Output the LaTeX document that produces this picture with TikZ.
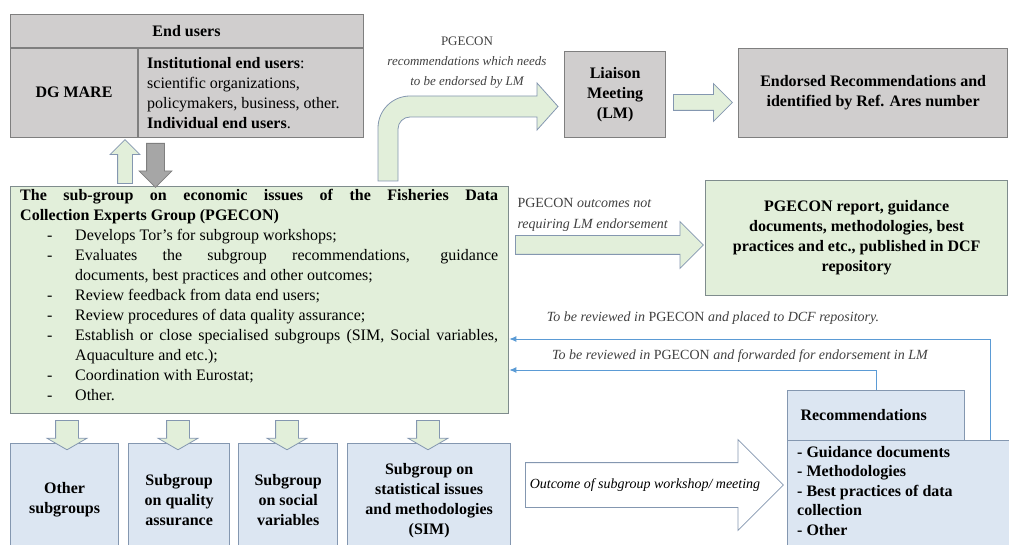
\documentclass[tikz,border=0pt]{standalone}
\usepackage{fontspec}
\setmainfont{Liberation Serif}
\usetikzlibrary{shapes.arrows,arrows.meta,positioning}

\definecolor{boxgray}{HTML}{D0CECE}
\definecolor{edgegray}{HTML}{7F7F7F}
\definecolor{boxgreen}{HTML}{E2EFDA}
\definecolor{edgegreen}{HTML}{7F8C8D}
\definecolor{boxblue}{HTML}{DCE6F2}
\definecolor{edgeblue}{HTML}{8497B0}
\definecolor{linkblue}{HTML}{5B9BD5}
\definecolor{labelgray}{HTML}{404040}

\newcommand{\mainsize}{\fontsize{16}{20}\selectfont}
\newcommand{\pitem}[1]{\hangindent=55pt\hangafter=1\hspace*{27pt}\makebox[28pt][l]{-}#1\par}

\tikzset{
  gbox/.style={rectangle, draw=edgegray, fill=boxgray, line width=1.3pt, inner sep=0pt, anchor=north west},
  grbox/.style={gbox, draw=edgegreen, fill=boxgreen},
  bbox/.style={gbox, draw=edgeblue, fill=boxblue},
  blockarrow/.style={single arrow, draw=edgeblue, fill=boxgreen, line width=0.8pt,
    anchor=tail, single arrow tip angle=90},
  btext/.style={font=\mainsize\bfseries, align=center},
  lbl/.style={font=\fontsize{14}{17}\selectfont\itshape, text=labelgray, align=center},
  feedback/.style={draw=linkblue, line width=1pt, -{Latex[length=7pt,width=6pt]}}
}

\begin{document}
\begin{tikzpicture}[x=1pt,y=-1pt,font=\mainsize]
  \useasboundingbox (0,0) rectangle (1009,545);
  \clip (0,0) rectangle (1009,545);

  % end users
  \node[gbox, minimum width=353pt, minimum height=123pt] (endusers) at (10,14) {};
  \draw[edgegray, line width=1.3pt] (endusers.west |- 0,48) -- (endusers.east |- 0,48);
  \draw[edgegray, line width=1.3pt] (138,48) -- (endusers.south -| 138,0);
  \node[btext] (eutitle) at (186.5,31) {End users};
  \node[btext] (dgmare) at (74,92.5) {DG MARE};
  \node[anchor=west, align=left, inner sep=0pt] (euinst) at (147,93.5)
    {\textbf{Institutional end users}:\\ scientific organizations,\\ policymakers, business, other.\\ \textbf{Individual end users}.};

  % pgecon
  \node[grbox, minimum width=498pt, minimum height=227pt] (pgecon) at (10,186) {};
  \node[anchor=north west, text width=478pt, align=justify, inner sep=0pt] (pgtext) at (20,189)
    {\parindent=0pt\textbf{The sub-group on economic issues of the Fisheries Data\linebreak Collection Experts Group (PGECON)}\par
     \pitem{Develops Tor’s for subgroup workshops;}
     \pitem{Evaluates the subgroup recommendations, guidance\linebreak documents, best practices and other outcomes;}
     \pitem{Review feedback from data end users;}
     \pitem{Review procedures of data quality assurance;}
     \pitem{Establish or close specialised subgroups (SIM, Social variables,\linebreak Aquaculture and etc.);}
     \pitem{Coordination with Eurostat;}
     \pitem{Other.}};

  \node[blockarrow, shape border rotate=90, minimum height=44pt, minimum width=29pt,
        inner sep=7pt, single arrow head extend=7.5pt] (upar) at (125,184) {};
  \node[blockarrow, shape border rotate=270, fill=black!35, draw=edgegray, minimum height=44pt,
        minimum width=32pt, inner sep=8.5pt, single arrow head extend=7.5pt] (downar) at (155.5,143) {};

  % liaison meeting
  \draw[edgeblue, fill=boxgreen, line width=0.8pt]
    (378,181) -- (378,128) arc[start angle=180, end angle=90, radius=32pt]
    -- (537,96) -- (537,83) -- (558,106.5) -- (537,130) -- (537,117) -- (410,117)
    arc[start angle=90, end angle=180, radius=12pt] -- (398,181) -- cycle;
  \node[lbl, font=\fontsize{13}{20}\selectfont\itshape] (lmlabel) at (467,63)
    {\textup{PGECON}\\recommendations which needs\\to be endorsed by LM};
  \node[gbox, minimum width=101pt, minimum height=86pt] (lm) at (564,51) {};
  \node[btext] at (lm.center) {Liaison\\Meeting\\(LM)};
  \node[blockarrow, minimum height=59pt, minimum width=37pt, inner sep=7.5pt,
        single arrow head extend=11pt] (lmar) at (673,102.5) {};
  \node[gbox, minimum width=269pt, minimum height=89pt] (endorsed) at (738,48) {};
  \node[btext] at (endorsed.center) {Endorsed Recommendations and\\identified by Ref. Ares number};

  % outcomes not requiring LM
  \node[lbl, anchor=west, align=left, font=\fontsize{14}{21}\selectfont\itshape] (outlabel) at (514,215)
    {\textup{PGECON} outcomes not\\requiring LM endorsement};
  \node[blockarrow, minimum height=188pt, minimum width=46pt, inner sep=9pt,
        single arrow head extend=14pt] (outar) at (515,245) {};
  \node[grbox, minimum width=302pt, minimum height=115pt] (report) at (705,180) {};
  \node[btext] at (report.center) {PGECON report, guidance\\documents, methodologies, best\\practices and etc., published in DCF\\repository};

  % feedback from recommendations
  \node[gbox, bbox, minimum width=177pt, minimum height=50pt] (rechead) at (787,390) {};
  \node[anchor=west, font=\mainsize\bfseries] at (797,415) {Recommendations};
  \node[gbox, bbox, minimum width=235pt, minimum height=120pt] (reclist) at (787,440) {};
  \node[anchor=north west, align=left, inner sep=0pt, font=\fontsize{16}{19.5}\selectfont\bfseries] at (797,446)
    {- Guidance documents\\- Methodologies\\- Best practices of data\\collection\\- Other};
  \coordinate (fbtop) at (990,339);
  \coordinate (fbmid) at (0,370);
  \draw[feedback] (reclist.north -| fbtop) |- (pgecon.east |- fbtop);
  \draw[feedback] (rechead.north) |- (pgecon.east |- fbmid);
  \node[lbl] at (713,318) {To be reviewed in \textup{PGECON} and placed to DCF repository.};
  \node[lbl] at (740,356) {To be reviewed in \textup{PGECON} and forwarded for endorsement in LM};

  % subgroups
  \node[gbox, bbox, minimum width=108pt, minimum height=115pt] (other) at (10,443) {};
  \node[gbox, bbox, minimum width=101pt, minimum height=115pt] (quality) at (128,443) {};
  \node[gbox, bbox, minimum width=99pt, minimum height=115pt] (social) at (238,443) {};
  \node[gbox, bbox, minimum width=163pt, minimum height=115pt] (sim) at (347,443) {};
  \node[btext] at ([yshift=1pt]other.center) {Other\\subgroups};
  \node[btext] at ([yshift=1pt]quality.center) {Subgroup\\on quality\\assurance};
  \node[btext] at ([yshift=1pt]social.center) {Subgroup\\on social\\variables};
  \node[btext] at ([yshift=1pt]sim.center) {Subgroup on\\statistical issues\\and methodologies\\(SIM)};
  \foreach \cx/\nm in {67/other, 178/quality, 287/social, 428/sim}
    \node[blockarrow, shape border rotate=270, minimum height=18pt, minimum width=39pt,
          inner sep=11pt, single arrow head extend=8.5pt, single arrow tip angle=120] (ar\nm) at (\cx,420) {};

  \node[blockarrow, fill=white, minimum height=258pt, minimum width=90pt, inner sep=22pt,
        single arrow head extend=23pt] (wsar) at (525,485) {};
  \node[lbl, text=black] at (645,485) {Outcome of subgroup workshop/ meeting};
\end{tikzpicture}
\end{document}
